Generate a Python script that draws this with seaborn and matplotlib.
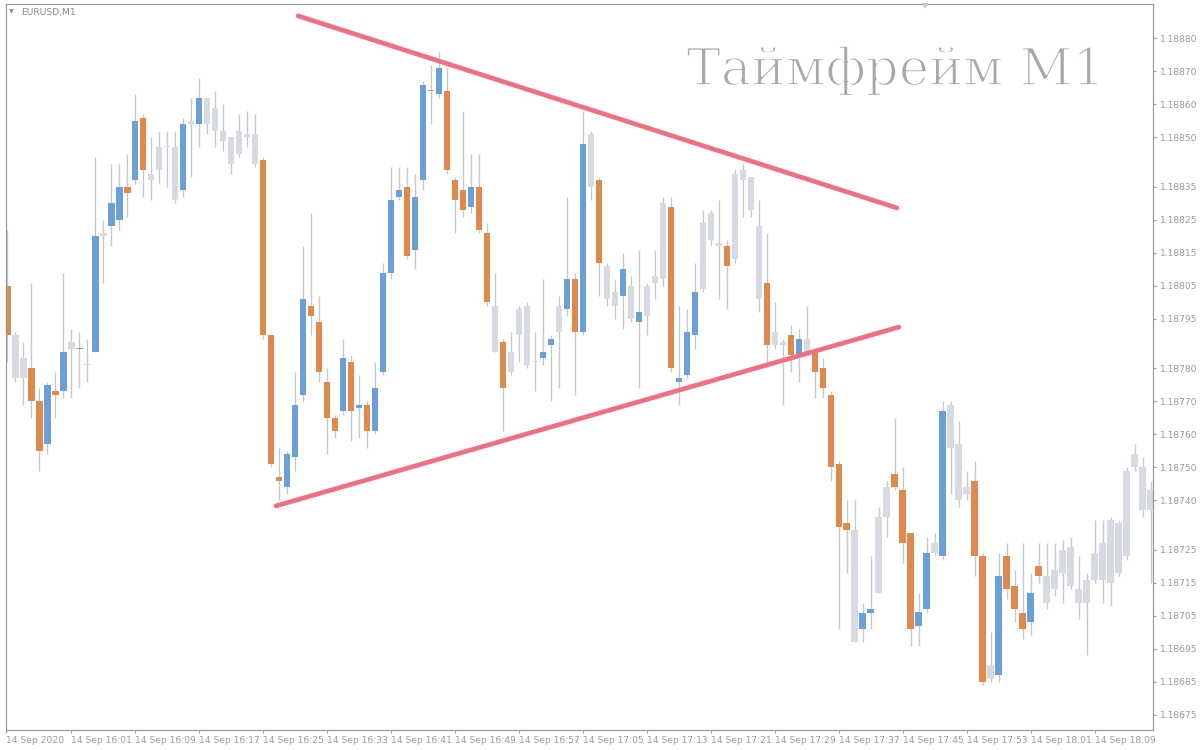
import matplotlib
matplotlib.use("Agg")
import matplotlib.pyplot as plt
import matplotlib.patheffects as pe
import numpy as np
import pandas as pd
import seaborn as sns

sns.set_theme(style="white")
plt.rcParams['font.family'] = ['DejaVu Sans']

# ---------------- data (EURUSD M1, 14 Sep 2020, bars from 15:53) ----------------
opens = [1.18805, 1.18790, 1.18783, 1.18780, 1.18770, 1.18757, 1.18773, 1.18773, 1.18788, 1.18786,
         1.18781, 1.18785, 1.18821, 1.18823, 1.18825, 1.18835, 1.18837, 1.18856, 1.18839, 1.18847,
         1.18847, 1.18847, 1.18834, 1.18855, 1.18854, 1.18862, 1.18859, 1.18852, 1.18850, 1.18852,
         1.18851, 1.18851, 1.18843, 1.18790, 1.18747, 1.18744, 1.18753, 1.18772, 1.18799, 1.18794,
         1.18776, 1.18765, 1.18767, 1.18782, 1.18768, 1.18769, 1.18761, 1.18779, 1.18809, 1.18832,
         1.18835, 1.18816, 1.18837, 1.18864, 1.18863, 1.18864, 1.18837, 1.18834, 1.18829, 1.18835,
         1.18821, 1.18799, 1.18788, 1.18785, 1.18798, 1.18799, 1.18782, 1.18783, 1.18787, 1.18799,
         1.18798, 1.18807, 1.18791, 1.18851, 1.18837, 1.18811, 1.18803, 1.18802, 1.18805, 1.18794,
         1.18805, 1.18808, 1.18807, 1.18829, 1.18776, 1.18778, 1.18790, 1.18804, 1.18827, 1.18818,
         1.18817, 1.18813, 1.18840, 1.18838, 1.18823, 1.18806, 1.18791, 1.18788, 1.18790, 1.18784,
         1.18789, 1.18785, 1.18780, 1.18772, 1.18751, 1.18733, 1.18731, 1.18701, 1.18706, 1.18712,
         1.18735, 1.18748, 1.18743, 1.18730, 1.18702, 1.18707, 1.18727, 1.18723, 1.18769, 1.18757,
         1.18744, 1.18746, 1.18723, 1.18690, 1.18687, 1.18723, 1.18714, 1.18706, 1.18703, 1.18720,
         1.18717, 1.18719, 1.18725, 1.18726, 1.18713, 1.18716, 1.18716, 1.18716, 1.18715, 1.18733,
         1.18723, 1.18750, 1.18750, 1.18743]
highs = [1.18822, 1.18791, 1.18788, 1.18806, 1.18774, 1.18776, 1.18779, 1.18809, 1.18792, 1.18791,
         1.18789, 1.18844, 1.18825, 1.18842, 1.18842, 1.18845, 1.18863, 1.18857, 1.18850, 1.18852,
         1.18852, 1.18852, 1.18856, 1.18862, 1.18868, 1.18862, 1.18864, 1.18860, 1.18850, 1.18857,
         1.18858, 1.18857, 1.18844, 1.18790, 1.18756, 1.18755, 1.18779, 1.18817, 1.18827, 1.18802,
         1.18780, 1.18766, 1.18789, 1.18784, 1.18778, 1.18770, 1.18782, 1.18812, 1.18841, 1.18841,
         1.18841, 1.18839, 1.18867, 1.18872, 1.18876, 1.18871, 1.18838, 1.18858, 1.18845, 1.18845,
         1.18824, 1.18809, 1.18789, 1.18791, 1.18799, 1.18800, 1.18791, 1.18807, 1.18790, 1.18802,
         1.18832, 1.18809, 1.18858, 1.18852, 1.18838, 1.18812, 1.18807, 1.18815, 1.18808, 1.18816,
         1.18806, 1.18816, 1.18832, 1.18832, 1.18799, 1.18798, 1.18812, 1.18828, 1.18828, 1.18831,
         1.18819, 1.18840, 1.18842, 1.18838, 1.18831, 1.18821, 1.18800, 1.18789, 1.18793, 1.18792,
         1.18799, 1.18786, 1.18783, 1.18773, 1.18752, 1.18740, 1.18740, 1.18709, 1.18723, 1.18738,
         1.18746, 1.18765, 1.18750, 1.18730, 1.18712, 1.18729, 1.18730, 1.18770, 1.18770, 1.18764,
         1.18749, 1.18752, 1.18724, 1.18700, 1.18724, 1.18727, 1.18719, 1.18727, 1.18718, 1.18727,
         1.18727, 1.18727, 1.18728, 1.18729, 1.18723, 1.18718, 1.18734, 1.18734, 1.18735, 1.18734,
         1.18750, 1.18757, 1.18753, 1.18746]
lows = [1.18782, 1.18776, 1.18769, 1.18765, 1.18749, 1.18754, 1.18765, 1.18771, 1.18771, 1.18774,
        1.18776, 1.18785, 1.18806, 1.18817, 1.18822, 1.18826, 1.18836, 1.18832, 1.18831, 1.18836,
        1.18835, 1.18830, 1.18832, 1.18838, 1.18847, 1.18851, 1.18847, 1.18846, 1.18839, 1.18844,
        1.18847, 1.18841, 1.18789, 1.18750, 1.18740, 1.18742, 1.18749, 1.18770, 1.18790, 1.18776,
        1.18754, 1.18759, 1.18766, 1.18758, 1.18759, 1.18756, 1.18760, 1.18778, 1.18807, 1.18831,
        1.18813, 1.18810, 1.18834, 1.18854, 1.18862, 1.18839, 1.18821, 1.18826, 1.18827, 1.18821,
        1.18799, 1.18785, 1.18761, 1.18778, 1.18782, 1.18780, 1.18773, 1.18781, 1.18770, 1.18774,
        1.18796, 1.18772, 1.18790, 1.18831, 1.18802, 1.18799, 1.18795, 1.18792, 1.18794, 1.18774,
        1.18790, 1.18801, 1.18805, 1.18779, 1.18769, 1.18777, 1.18786, 1.18803, 1.18817, 1.18801,
        1.18798, 1.18812, 1.18826, 1.18826, 1.18797, 1.18782, 1.18786, 1.18769, 1.18779, 1.18776,
        1.18784, 1.18771, 1.18771, 1.18746, 1.18701, 1.18718, 1.18697, 1.18697, 1.18701, 1.18712,
        1.18729, 1.18743, 1.18721, 1.18696, 1.18696, 1.18706, 1.18723, 1.18722, 1.18742, 1.18738,
        1.18740, 1.18717, 1.18684, 1.18685, 1.18685, 1.18710, 1.18703, 1.18698, 1.18699, 1.18715,
        1.18707, 1.18711, 1.18709, 1.18713, 1.18704, 1.18693, 1.18715, 1.18709, 1.18708, 1.18717,
        1.18722, 1.18749, 1.18735, 1.18715]
closes = [1.18790, 1.18777, 1.18777, 1.18770, 1.18755, 1.18775, 1.18772, 1.18785, 1.18786, 1.18786,
          1.18781, 1.18820, 1.18820, 1.18830, 1.18835, 1.18833, 1.18855, 1.18840, 1.18837, 1.18840,
          1.18847, 1.18831, 1.18854, 1.18854, 1.18862, 1.18854, 1.18852, 1.18849, 1.18842, 1.18845,
          1.18850, 1.18842, 1.18790, 1.18751, 1.18746, 1.18754, 1.18769, 1.18801, 1.18796, 1.18779,
          1.18765, 1.18761, 1.18783, 1.18767, 1.18769, 1.18761, 1.18774, 1.18809, 1.18831, 1.18834,
          1.18814, 1.18832, 1.18866, 1.18864, 1.18871, 1.18840, 1.18831, 1.18828, 1.18835, 1.18822,
          1.18800, 1.18785, 1.18774, 1.18779, 1.18790, 1.18781, 1.18782, 1.18785, 1.18789, 1.18791,
          1.18807, 1.18791, 1.18848, 1.18835, 1.18812, 1.18801, 1.18799, 1.18810, 1.18795, 1.18797,
          1.18796, 1.18806, 1.18830, 1.18780, 1.18777, 1.18791, 1.18803, 1.18824, 1.18819, 1.18817,
          1.18811, 1.18839, 1.18837, 1.18828, 1.18801, 1.18787, 1.18787, 1.18787, 1.18784, 1.18789,
          1.18785, 1.18779, 1.18774, 1.18750, 1.18732, 1.18731, 1.18697, 1.18706, 1.18707, 1.18735,
          1.18744, 1.18744, 1.18727, 1.18701, 1.18706, 1.18724, 1.18724, 1.18767, 1.18756, 1.18740,
          1.18742, 1.18723, 1.18685, 1.18686, 1.18717, 1.18713, 1.18707, 1.18701, 1.18712, 1.18717,
          1.18709, 1.18713, 1.18718, 1.18714, 1.18709, 1.18709, 1.18724, 1.18727, 1.18734, 1.18718,
          1.18749, 1.18754, 1.18737, 1.18737]
# candle colouring of the indicator: b = blue, o = orange, g = grey
candle_kind = list(
    "oggoobobgo" "gbgbbobogg" "ggbgbggggg" "ggooobbboo" "oobobobbbb"
    "obbobooobo" "ogoggggbbg" "bobgoggbgb" "gggobbbggg" "oggggoggob"
    "gooooogbbg" "gooobbgbgg" "googbooobo" "gggggggggg" "gggg")

tick_bars = [8, 16, 24, 32, 40, 48, 56, 64, 72, 80, 88, 96, 104, 112, 120, 128, 136]
tick_times = ["14 Sep 16:01", "14 Sep 16:09", "14 Sep 16:17", "14 Sep 16:25", "14 Sep 16:33",
              "14 Sep 16:41", "14 Sep 16:49", "14 Sep 16:57", "14 Sep 17:05", "14 Sep 17:13",
              "14 Sep 17:21", "14 Sep 17:29", "14 Sep 17:37", "14 Sep 17:45", "14 Sep 17:53",
              "14 Sep 18:01", "14 Sep 18:09"]
first_label = "14 Sep 2020"
price_ticks = [1.18880, 1.18870, 1.18860, 1.18850, 1.18835, 1.18825, 1.18815, 1.18805, 1.18795,
               1.18780, 1.18770, 1.18760, 1.18750, 1.18740, 1.18725, 1.18715, 1.18705, 1.18695,
               1.18685, 1.18675]

# triangle trend lines (bar index, price)
upper_line_x = [36.36, 111.28]
upper_line_y = [1.188868, 1.188286]
lower_line_x = [33.61, 111.53]
lower_line_y = [1.187383, 1.187925]

title_text = "Таймфрейм M1"
symbol_text = "EURUSD,M1"

# ---------------- styling ----------------
COL = {"b": "#6A9FD8", "o": "#DF8A4C", "g": "#D7DAE2"}
WICK = "#C6C8CC"
FRAME = "#9A9A9A"
TXT = "#9A9A9A"
LINE = "#EE7183"

df = pd.DataFrame({"open": opens, "high": highs, "low": lows, "close": closes,
                   "kind": candle_kind})
df["bar"] = np.arange(len(df))

fig = plt.figure(figsize=(12, 7.5), dpi=100)
W, H = 1200, 750
ax_left, ax_right, ax_top, ax_bot = 5.7, 1153.3, 4.0, 730.0
ax = fig.add_axes([ax_left / W, 1 - ax_bot / H, (ax_right - ax_left) / W, (ax_bot - ax_top) / H])
ax.set_facecolor("white")

# wicks
ax.vlines(df["bar"], df["low"], df["high"], color=WICK, lw=1.0, zorder=1)
# bodies
body_bottom = np.minimum(df["open"], df["close"])
body_height = np.maximum((df["close"] - df["open"]).abs(), 0.3e-5)
ax.bar(df["bar"], body_height, bottom=body_bottom, width=0.82,
       color=[COL[k] for k in df["kind"]], linewidth=0, zorder=2)

# trend lines via seaborn
tl = pd.DataFrame({"x": upper_line_x + lower_line_x,
                   "y": upper_line_y + lower_line_y,
                   "line": ["upper", "upper", "lower", "lower"]})
sns.lineplot(data=tl, x="x", y="y", units="line", estimator=None, color=LINE,
             lw=3.4, ax=ax, zorder=3, solid_capstyle="round", legend=False)

x_left = (ax_left - 7.3) / 7.995
x_right = (ax_right - 7.3) / 7.995
ax.set_xlim(x_left, x_right)
ax.set_ylim(1.18880 - (ax_bot - 38.3) / 3.30 * 1e-5, 1.18880 + (38.3 - ax_top) / 3.30 * 1e-5)

for s in ax.spines.values():
    s.set_color(FRAME)
    s.set_linewidth(0.9)
    s.set_visible(True)

ax.set_xlabel("")
ax.set_ylabel("")
ax.set_xticks([x_left] + tick_bars)
ax.set_xticklabels([first_label] + tick_times)
ax.tick_params(axis="x", direction="out", length=2.5, width=0.8, color=FRAME,
               labelsize=6.6, labelcolor=TXT, pad=2, bottom=True)
for lab in ax.get_xticklabels():
    lab.set_ha("left")

ax.yaxis.tick_right()
ax.set_yticks(price_ticks)
ax.set_yticklabels([f"{p:.5f}" for p in price_ticks])
ax.tick_params(axis="y", direction="out", length=2.5, width=0.8, color=FRAME,
               labelsize=6.6, labelcolor=TXT, pad=2.5, right=True, left=False)
ax.grid(False)

# header texts
fig.text(21 / W, 1 - 12.5 / H, symbol_text, fontsize=6.6, color="#8A8A8A",
         ha="left", va="center")
fig.text(11.5 / W, 1 - 12 / H, "▼", fontsize=4.5, color="#8A8A8A", ha="center", va="center")
fig.text(925 / W, 1 - 6 / H, "▼", fontsize=6, color="#C8C8CC", ha="center", va="center")
fig.text(1105 / W, 1 - 85 / H, title_text, fontsize=37, color="#A8A8A8",
         family="DejaVu Serif", ha="right", va="baseline",
         path_effects=[pe.Normal(), pe.Stroke(linewidth=1.3, foreground="white")])

fig.savefig("out.png", dpi=100, facecolor="white")
